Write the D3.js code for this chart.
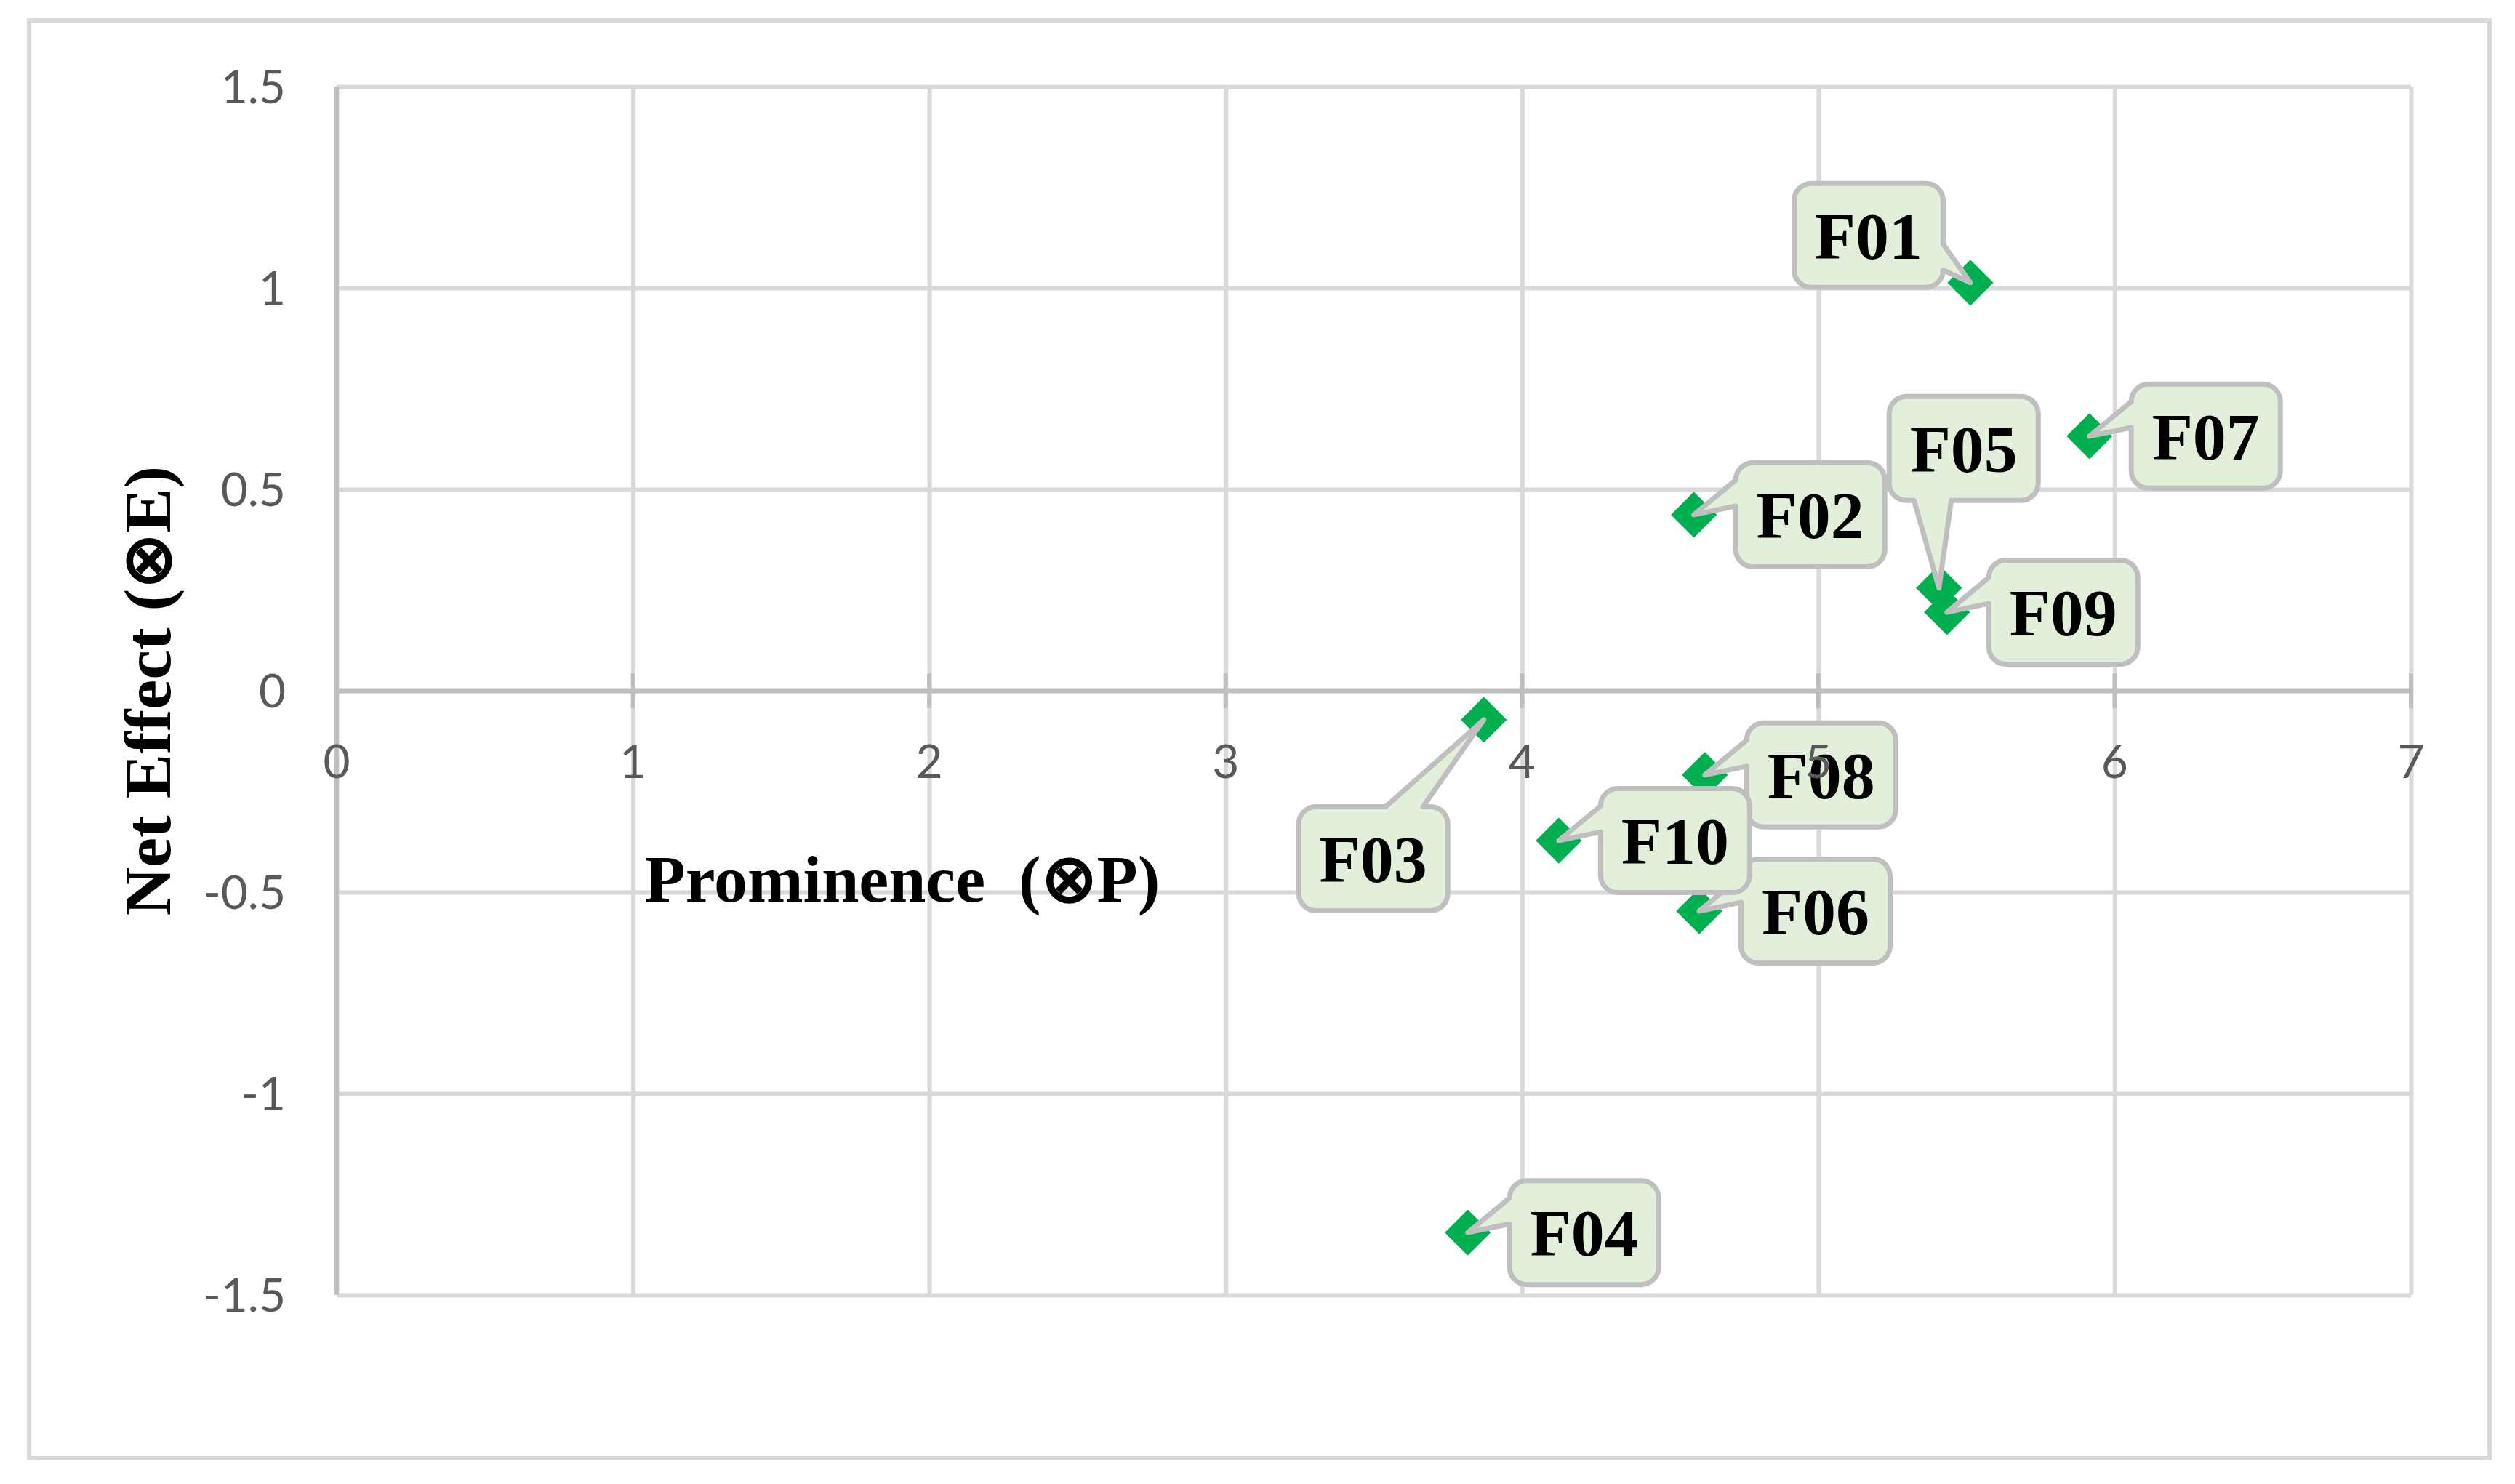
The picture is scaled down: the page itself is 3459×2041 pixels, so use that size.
<!DOCTYPE html>
<html>
<head>
<meta charset="utf-8">
<script src="https://cdn.jsdelivr.net/npm/d3@7"></script>
<style>
  body { margin: 0; background: #fff; }
  svg { display: block; }
  text { white-space: pre; }
</style>
</head>
<body>
<div id="showBox"></div>
<script>
// data
const factors = ["F01", "F02", "F03", "F04", "F05", "F06", "F07", "F08", "F09", "F10"];
const prominence = [5.513, 4.580, 3.871, 3.817, 5.407, 4.598, 5.915, 4.617, 5.434, 4.124];
const netEffect = [1.013, 0.437, -0.072, -1.345, 0.255, -0.547, 0.632, -0.209, 0.195, -0.372];

const xTicks = [0, 1, 2, 3, 4, 5, 6, 7];
const yTicks = [-1.5, -1, -0.5, 0, 0.5, 1, 1.5];
const xTitle = "Prominence  (\u2297P)";
const yTitle = "Net Effect (\u2297E)";

// where each callout box sits relative to its point (px)
const calloutOffset = [[-140, -65], [160, 0], [-152, 191], [160, 0], [34, -192],
                       [160, 0], [160, 0], [160, 0], [160, 0], [160, 0]];

const W = 3459, H = 2041;
const plot = {left: 463, right: 3316, top: 119, bottom: 1781};

const x = d3.scaleLinear().domain([0, 7]).range([plot.left, plot.right]);
const y = d3.scaleLinear().domain([-1.5, 1.5]).range([plot.bottom, plot.top]);

const svg = d3.select("#showBox").append("svg")
    .attr("width", W).attr("height", H);

// chart border
svg.append("rect")
    .attr("x", 40).attr("y", 28).attr("width", 3384).attr("height", 1977)
    .attr("fill", "#fff").attr("stroke", "#d9d9d9").attr("stroke-width", 6);

// gridlines
const gx = svg.append("g")
    .attr("transform", `translate(0,${plot.bottom})`)
    .call(d3.axisBottom(x).tickValues(xTicks).tickSize(-(plot.bottom - plot.top)).tickFormat(""));
const gy = svg.append("g")
    .attr("transform", `translate(${plot.left},0)`)
    .call(d3.axisLeft(y).tickValues(yTicks).tickSize(-(plot.right - plot.left)).tickFormat(""));
[gx, gy].forEach(g => {
    g.select(".domain").remove();
    g.selectAll(".tick line").attr("stroke", "#d9d9d9").attr("stroke-width", 6);
});

// axes through zero
svg.append("line")
    .attr("x1", x(0)).attr("x2", x(0)).attr("y1", plot.top).attr("y2", plot.bottom)
    .attr("stroke", "#bfbfbf").attr("stroke-width", 6);
svg.append("line")
    .attr("x1", plot.left).attr("x2", plot.right).attr("y1", y(0)).attr("y2", y(0))
    .attr("stroke", "#bfbfbf").attr("stroke-width", 7);
svg.append("g").selectAll("line")
    .data(xTicks)
    .join("line")
    .attr("x1", d => x(d)).attr("x2", d => x(d))
    .attr("y1", y(0) - 24).attr("y2", y(0) + 24)
    .attr("stroke", "#bfbfbf").attr("stroke-width", 6);

// markers
svg.append("g").selectAll("path")
    .data(factors)
    .join("path")
    .attr("transform", (d, i) => `translate(${x(prominence[i])},${y(netEffect[i])}) rotate(45)`)
    .attr("d", d3.symbol(d3.symbolSquare, 2000))
    .attr("fill", "#00b050");

function calloutPath(cx, cy, w, h, tx, ty) {
    const l = cx - w / 2, t = cy - h / 2, r = cx + w / 2, b = cy + h / 2;
    const rad = Math.min(w, h) * 0.16667;
    const dxPos = tx - cx, dyPos = ty - cy;
    const dz = Math.abs(dyPos) - Math.abs(dxPos * h / w);
    const x1 = l + w * (dxPos > 0 ? 7 : 2) / 12;
    const x2 = l + w * (dxPos > 0 ? 10 : 5) / 12;
    const y1 = t + h * (dyPos > 0 ? 7 : 2) / 12;
    const y2 = t + h * (dyPos > 0 ? 10 : 5) / 12;
    const xl = dz > 0 ? l : (dxPos > 0 ? l : tx);
    const yl = dz > 0 ? y1 : (dxPos > 0 ? y1 : ty);
    const xt = dz > 0 ? (dyPos > 0 ? x1 : tx) : x1;
    const yt = dz > 0 ? (dyPos > 0 ? t : ty) : t;
    const xr = dz > 0 ? r : (dxPos > 0 ? tx : r);
    const yr = dz > 0 ? y1 : (dxPos > 0 ? ty : y1);
    const xb = dz > 0 ? (dyPos > 0 ? tx : x1) : x1;
    const yb = dz > 0 ? (dyPos > 0 ? ty : b) : b;

    const p = d3.path();
    p.moveTo(l, t + rad);
    p.arcTo(l, t, l + rad, t, rad);
    p.lineTo(x1, t); p.lineTo(xt, yt); p.lineTo(x2, t);
    p.lineTo(r - rad, t);
    p.arcTo(r, t, r, t + rad, rad);
    p.lineTo(r, y1); p.lineTo(xr, yr); p.lineTo(r, y2);
    p.lineTo(r, b - rad);
    p.arcTo(r, b, r - rad, b, rad);
    p.lineTo(x2, b); p.lineTo(xb, yb); p.lineTo(x1, b);
    p.lineTo(l + rad, b);
    p.arcTo(l, b, l, b - rad, rad);
    p.lineTo(l, y2); p.lineTo(xl, yl); p.lineTo(l, y1);
    p.closePath();
    return p.toString();
}

// callouts
const callouts = svg.append("g").selectAll("g")
    .data(factors)
    .join("g");
callouts.append("path")
    .attr("d", (d, i) => {
        const px = x(prominence[i]), py = y(netEffect[i]);
        return calloutPath(px + calloutOffset[i][0], py + calloutOffset[i][1], 205, 143, px, py);
    })
    .attr("fill", "#e2efda")
    .attr("stroke", "#bfbfbf")
    .attr("stroke-width", 7)
    .attr("stroke-linejoin", "round");
callouts.append("text")
    .attr("x", (d, i) => x(prominence[i]) + calloutOffset[i][0])
    .attr("y", (d, i) => y(netEffect[i]) + calloutOffset[i][1] + 32)
    .attr("text-anchor", "middle")
    .attr("font-family", "'Liberation Serif', 'Times New Roman', serif")
    .attr("font-weight", "bold")
    .attr("font-size", 92)
    .text(d => d);

// tick labels
svg.append("g")
    .attr("font-family", "Lato, Carlito, Calibri, sans-serif")
    .attr("font-size", 64)
    .attr("fill", "#595959")
    .attr("text-anchor", "middle")
    .selectAll("text")
    .data(xTicks)
    .join("text")
    .attr("x", d => x(d))
    .attr("y", y(0) + 120)
    .text(d => String(d));
svg.append("g")
    .attr("font-family", "Lato, Carlito, Calibri, sans-serif")
    .attr("font-size", 64)
    .attr("fill", "#595959")
    .attr("text-anchor", "end")
    .selectAll("text")
    .data(yTicks)
    .join("text")
    .attr("x", plot.left - 70)
    .attr("y", d => y(d) + 23)
    .text(d => String(d));

// axis titles
svg.append("text")
    .attr("x", 1241).attr("y", 1240)
    .attr("text-anchor", "middle")
    .attr("font-family", "'Liberation Serif', 'Times New Roman', serif")
    .attr("font-weight", "bold")
    .attr("font-size", 92)
    .text(xTitle);
svg.append("text")
    .attr("transform", `translate(234,${(plot.top + plot.bottom) / 2}) rotate(-90)`)
    .attr("text-anchor", "middle")
    .attr("font-family", "'Liberation Serif', 'Times New Roman', serif")
    .attr("font-weight", "bold")
    .attr("font-size", 92)
    .text(yTitle);
</script>
</body>
</html>
